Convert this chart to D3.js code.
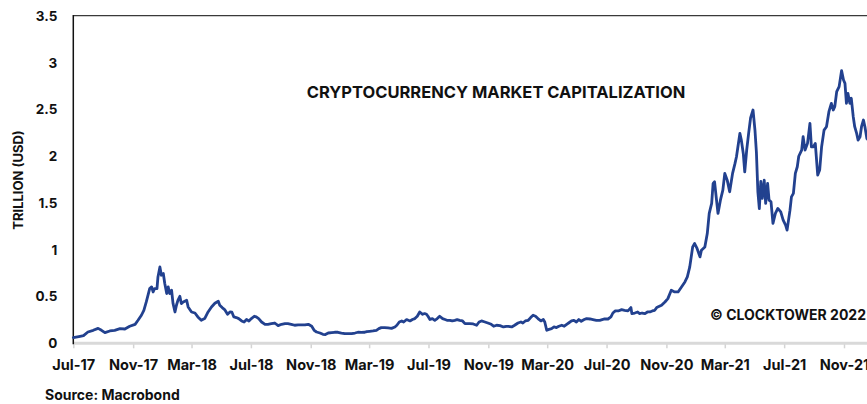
<!DOCTYPE html>
<html>
<head>
<meta charset="utf-8">
<script src="https://cdn.jsdelivr.net/npm/d3@7"></script>
<style>
  html, body { margin: 0; padding: 0; background: #ffffff; }
  svg { display: block; }
  text { font-family: Inter, Roboto, sans-serif; font-weight: 700; fill: #111111; }
</style>
</head>
<body>
<svg id="chart" width="867" height="404"></svg>
<script>
// Total crypto market capitalization, trillion USD
const dates = [
  "2017-07-01","2017-07-15","2017-07-22","2017-07-31","2017-08-11","2017-08-21","2017-08-28","2017-09-04",
  "2017-09-14","2017-09-24","2017-10-05","2017-10-15","2017-10-25","2017-11-05","2017-11-11","2017-11-18",
  "2017-11-23","2017-11-28","2017-12-05","2017-12-09","2017-12-12","2017-12-15","2017-12-20","2017-12-22",
  "2017-12-26","2017-12-29","2018-01-02","2018-01-05","2018-01-09","2018-01-12","2018-01-15","2018-01-19",
  "2018-01-22","2018-01-26","2018-01-29","2018-02-01","2018-02-05","2018-02-08","2018-02-12","2018-02-19",
  "2018-02-22","2018-03-01","2018-03-08","2018-03-14","2018-03-21","2018-03-28","2018-04-04","2018-04-11",
  "2018-04-18","2018-04-25","2018-04-28","2018-05-03","2018-05-08","2018-05-14","2018-05-19","2018-05-23",
  "2018-05-27","2018-06-01","2018-06-06","2018-06-12","2018-06-17","2018-06-22","2018-06-27","2018-07-02",
  "2018-07-08","2018-07-12","2018-07-17","2018-07-23","2018-07-30","2018-08-05","2018-08-12","2018-08-19",
  "2018-08-26","2018-09-02","2018-09-09","2018-09-15","2018-09-22","2018-09-29","2018-10-06","2018-10-13",
  "2018-10-20","2018-10-27","2018-11-03","2018-11-08","2018-11-13","2018-11-20","2018-11-26","2018-12-01",
  "2018-12-07","2018-12-14","2018-12-20","2018-12-27","2019-01-03","2019-01-10","2019-01-17","2019-01-24",
  "2019-01-31","2019-02-06","2019-02-13","2019-02-20","2019-02-24","2019-03-02","2019-03-09","2019-03-16",
  "2019-03-21","2019-03-26","2019-04-02","2019-04-09","2019-04-16","2019-04-23","2019-04-27","2019-05-02",
  "2019-05-07","2019-05-11","2019-05-17","2019-05-24","2019-05-29","2019-06-03","2019-06-08","2019-06-13",
  "2019-06-19","2019-06-23","2019-06-27","2019-06-30","2019-07-04","2019-07-09","2019-07-14","2019-07-19",
  "2019-07-24","2019-07-30","2019-08-04","2019-08-08","2019-08-14","2019-08-19","2019-08-24","2019-08-29",
  "2019-09-03","2019-09-09","2019-09-14","2019-09-18","2019-09-24","2019-10-01","2019-10-08","2019-10-13",
  "2019-10-18","2019-10-25","2019-10-31","2019-11-07","2019-11-12","2019-11-18","2019-11-25","2019-12-02",
  "2019-12-08","2019-12-12","2019-12-19","2019-12-25","2020-01-01","2020-01-07","2020-01-11","2020-01-16",
  "2020-01-22","2020-01-27","2020-02-01","2020-02-06","2020-02-11","2020-02-17","2020-02-22","2020-02-25",
  "2020-02-29","2020-03-03","2020-03-10","2020-03-15","2020-03-20","2020-03-25","2020-03-31","2020-04-05",
  "2020-04-10","2020-04-14","2020-04-20","2020-04-25","2020-04-30","2020-05-05","2020-05-10","2020-05-16",
  "2020-05-21","2020-05-28","2020-06-03","2020-06-10","2020-06-17","2020-06-22","2020-06-27","2020-07-04",
  "2020-07-10","2020-07-14","2020-07-19","2020-07-25","2020-08-01","2020-08-07","2020-08-14","2020-08-20",
  "2020-08-22","2020-08-28","2020-09-03","2020-09-07","2020-09-12","2020-09-18","2020-09-23","2020-09-28",
  "2020-10-03","2020-10-08","2020-10-12","2020-10-22","2020-10-29","2020-11-04","2020-11-11","2020-11-18",
  "2020-11-25","2020-12-02","2020-12-09","2020-12-14","2020-12-19","2020-12-25","2020-12-29","2021-01-03",
  "2021-01-09","2021-01-12","2021-01-19","2021-01-24","2021-01-28","2021-02-02","2021-02-05","2021-02-08",
  "2021-02-12","2021-02-15","2021-02-20","2021-02-25","2021-03-01","2021-03-06","2021-03-11","2021-03-17",
  "2021-03-22","2021-03-25","2021-03-28","2021-04-01","2021-04-04","2021-04-08","2021-04-11","2021-04-15",
  "2021-04-19","2021-04-23","2021-04-28","2021-05-02","2021-05-05","2021-05-08","2021-05-11","2021-05-14",
  "2021-05-17","2021-05-21","2021-05-24","2021-05-28","2021-05-31","2021-06-04","2021-06-08","2021-06-13",
  "2021-06-18","2021-06-24","2021-06-29","2021-07-04","2021-07-07","2021-07-13","2021-07-16","2021-07-20",
  "2021-07-24","2021-07-28","2021-07-31","2021-08-06","2021-08-09","2021-08-13","2021-08-18","2021-08-23",
  "2021-08-26","2021-08-30","2021-09-03","2021-09-08","2021-09-12","2021-09-16","2021-09-21","2021-09-26",
  "2021-10-01","2021-10-06","2021-10-10","2021-10-13","2021-10-17","2021-10-22","2021-10-27","2021-10-31",
  "2021-11-03","2021-11-06","2021-11-09","2021-11-13","2021-11-16","2021-11-20","2021-11-23","2021-11-27",
  "2021-11-30","2021-12-04","2021-12-07","2021-12-11","2021-12-14","2021-12-18","2021-12-25"
];

const marketCap = [
  0.061,0.075,0.082,0.121,0.139,0.160,0.139,0.114,
  0.132,0.139,0.157,0.153,0.182,0.203,0.246,0.300,
  0.353,0.442,0.585,0.603,0.549,0.585,0.585,0.710,
  0.817,0.728,0.746,0.639,0.532,0.603,0.532,0.567,
  0.425,0.335,0.407,0.460,0.503,0.425,0.442,0.460,
  0.389,0.335,0.324,0.282,0.246,0.264,0.335,0.389,
  0.428,0.450,0.407,0.382,0.361,0.310,0.335,0.332,
  0.282,0.275,0.264,0.239,0.228,0.254,0.239,0.264,
  0.289,0.282,0.264,0.228,0.203,0.203,0.210,0.217,
  0.189,0.203,0.210,0.210,0.203,0.193,0.196,0.196,
  0.196,0.203,0.182,0.139,0.121,0.110,0.096,0.093,
  0.110,0.114,0.118,0.118,0.110,0.104,0.104,0.104,
  0.110,0.118,0.116,0.118,0.125,0.128,0.132,0.139,
  0.157,0.168,0.168,0.164,0.160,0.175,0.193,0.228,
  0.239,0.228,0.254,0.239,0.254,0.264,0.289,0.335,
  0.310,0.318,0.310,0.289,0.254,0.264,0.246,0.264,
  0.289,0.264,0.254,0.246,0.246,0.239,0.246,0.254,
  0.246,0.239,0.210,0.210,0.210,0.207,0.193,0.228,
  0.239,0.228,0.217,0.203,0.182,0.193,0.189,0.175,
  0.182,0.182,0.175,0.193,0.217,0.228,0.217,0.239,
  0.246,0.275,0.300,0.289,0.264,0.239,0.254,0.228,
  0.139,0.146,0.157,0.175,0.168,0.182,0.193,0.182,
  0.203,0.217,0.239,0.246,0.228,0.254,0.236,0.254,
  0.264,0.260,0.254,0.246,0.246,0.254,0.260,0.260,
  0.282,0.324,0.346,0.346,0.360,0.353,0.346,0.382,
  0.318,0.324,0.335,0.318,0.324,0.318,0.335,0.335,
  0.346,0.353,0.382,0.407,0.442,0.478,0.567,0.549,
  0.549,0.603,0.656,0.710,0.817,1.031,1.067,1.014,
  0.924,0.996,1.031,1.174,1.389,1.496,1.710,1.727,
  1.531,1.389,1.531,1.638,1.817,1.745,1.620,1.817,
  1.924,1.995,2.102,2.245,2.173,2.030,1.834,2.066,
  2.245,2.410,2.495,2.280,2.040,1.620,1.440,1.730,
  1.550,1.745,1.496,1.710,1.531,1.513,1.282,1.389,
  1.442,1.406,1.317,1.263,1.210,1.424,1.566,1.603,
  1.817,1.888,2.000,2.066,2.209,2.066,2.138,2.352,
  2.100,2.100,2.138,1.799,1.852,2.102,2.280,2.316,
  2.477,2.566,2.495,2.530,2.691,2.745,2.916,2.816,
  2.780,2.566,2.673,2.566,2.620,2.423,2.316,2.245,
  2.173,2.209,2.316,2.388,2.316,2.190,2.150
];

const xTickDates = ["2017-07-01","2017-11-01","2018-03-01","2018-07-01","2018-11-01","2019-03-01",
  "2019-07-01","2019-11-01","2020-03-01","2020-07-01","2020-11-01","2021-03-01","2021-07-01","2021-11-01"];
const xTickLabels = ["Jul-17","Nov-17","Mar-18","Jul-18","Nov-18","Mar-19","Jul-19","Nov-19",
  "Mar-20","Jul-20","Nov-20","Mar-21","Jul-21","Nov-21"];
const yTickValues = [0, 0.5, 1, 1.5, 2, 2.5, 3, 3.5];
const yTickLabels = ["0", "0.5", "1", "1.5", "2", "2.5", "3", "3.5"];

const parse = d3.timeParse("%Y-%m-%d");
const series = dates.map((d, i) => ({ date: parse(d), value: marketCap[i] }));

const svg = d3.select("#chart");
const W = 867, H = 404;
const plotLeft = 73.3, plotTop = 16, plotBottom = 343.3;
const FONT = "Inter, Roboto, sans-serif";

const x = d3.scaleTime()
  .domain([parse(xTickDates[0]), parse(xTickDates[xTickDates.length - 1])])
  .range([plotLeft, 844]);
const y = d3.scaleLinear().domain([0, 3.5]).range([plotBottom, plotTop]);

// top frame line
svg.append("line")
  .attr("x1", plotLeft).attr("x2", W + 5)
  .attr("y1", plotTop - 0.3).attr("y2", plotTop - 0.3)
  .attr("stroke", "#3a3a3a").attr("stroke-width", 1.3);

// x axis: light grey baseline with small ticks and month labels
const xAxis = d3.axisBottom(x)
  .tickValues(xTickDates.map(parse))
  .tickFormat((d, i) => xTickLabels[i])
  .tickSize(5)
  .tickPadding(11);
const gx = svg.append("g").attr("transform", `translate(0,${plotBottom})`).call(xAxis);
gx.select(".domain").remove();
gx.selectAll(".tick line").attr("stroke", "#d4d4d4").attr("stroke-width", 1.5);
gx.selectAll(".tick text")
  .attr("font-size", 14.5).attr("fill", "#111")
  .style("font-family", FONT).style("font-weight", 700);
svg.append("line")
  .attr("x1", plotLeft).attr("x2", W + 5)
  .attr("y1", plotBottom).attr("y2", plotBottom)
  .attr("stroke", "#d9d9d9").attr("stroke-width", 3);

// y axis: black vertical rule, labels only
const yAxis = d3.axisLeft(y)
  .tickValues(yTickValues)
  .tickFormat((d, i) => yTickLabels[i])
  .tickSize(0)
  .tickPadding(16);
const gy = svg.append("g").attr("transform", `translate(${plotLeft},0)`).call(yAxis);
gy.select(".domain").remove();
gy.selectAll(".tick text")
  .attr("font-size", 13.5).attr("fill", "#111")
  .style("font-family", FONT).style("font-weight", 700);
svg.append("line")
  .attr("x1", plotLeft).attr("x2", plotLeft)
  .attr("y1", plotTop - 1).attr("y2", plotBottom + 1)
  .attr("stroke", "#111").attr("stroke-width", 1.5);

// market cap line
const line = d3.line().x(d => x(d.date)).y(d => y(d.value)).curve(d3.curveLinear);
svg.append("path")
  .datum(series)
  .attr("d", line)
  .attr("fill", "none")
  .attr("stroke", "#22418f")
  .attr("stroke-width", 2.8)
  .attr("stroke-linejoin", "round")
  .attr("stroke-linecap", "round");

// titles and notes
svg.append("text")
  .attr("x", 496).attr("y", 98)
  .attr("text-anchor", "middle")
  .attr("font-size", 16.5)
  .text("CRYPTOCURRENCY MARKET CAPITALIZATION");

svg.append("text")
  .attr("x", 866).attr("y", 319.5)
  .attr("text-anchor", "end")
  .attr("font-size", 14)
  .text("© CLOCKTOWER 2022");

svg.append("text")
  .attr("transform", "translate(23,180) rotate(-90)")
  .attr("text-anchor", "middle")
  .attr("font-size", 13)
  .text("TRILLION (USD)");

svg.append("text")
  .attr("x", 45).attr("y", 400)
  .attr("font-size", 14)
  .text("Source: Macrobond");
</script>
</body>
</html>
